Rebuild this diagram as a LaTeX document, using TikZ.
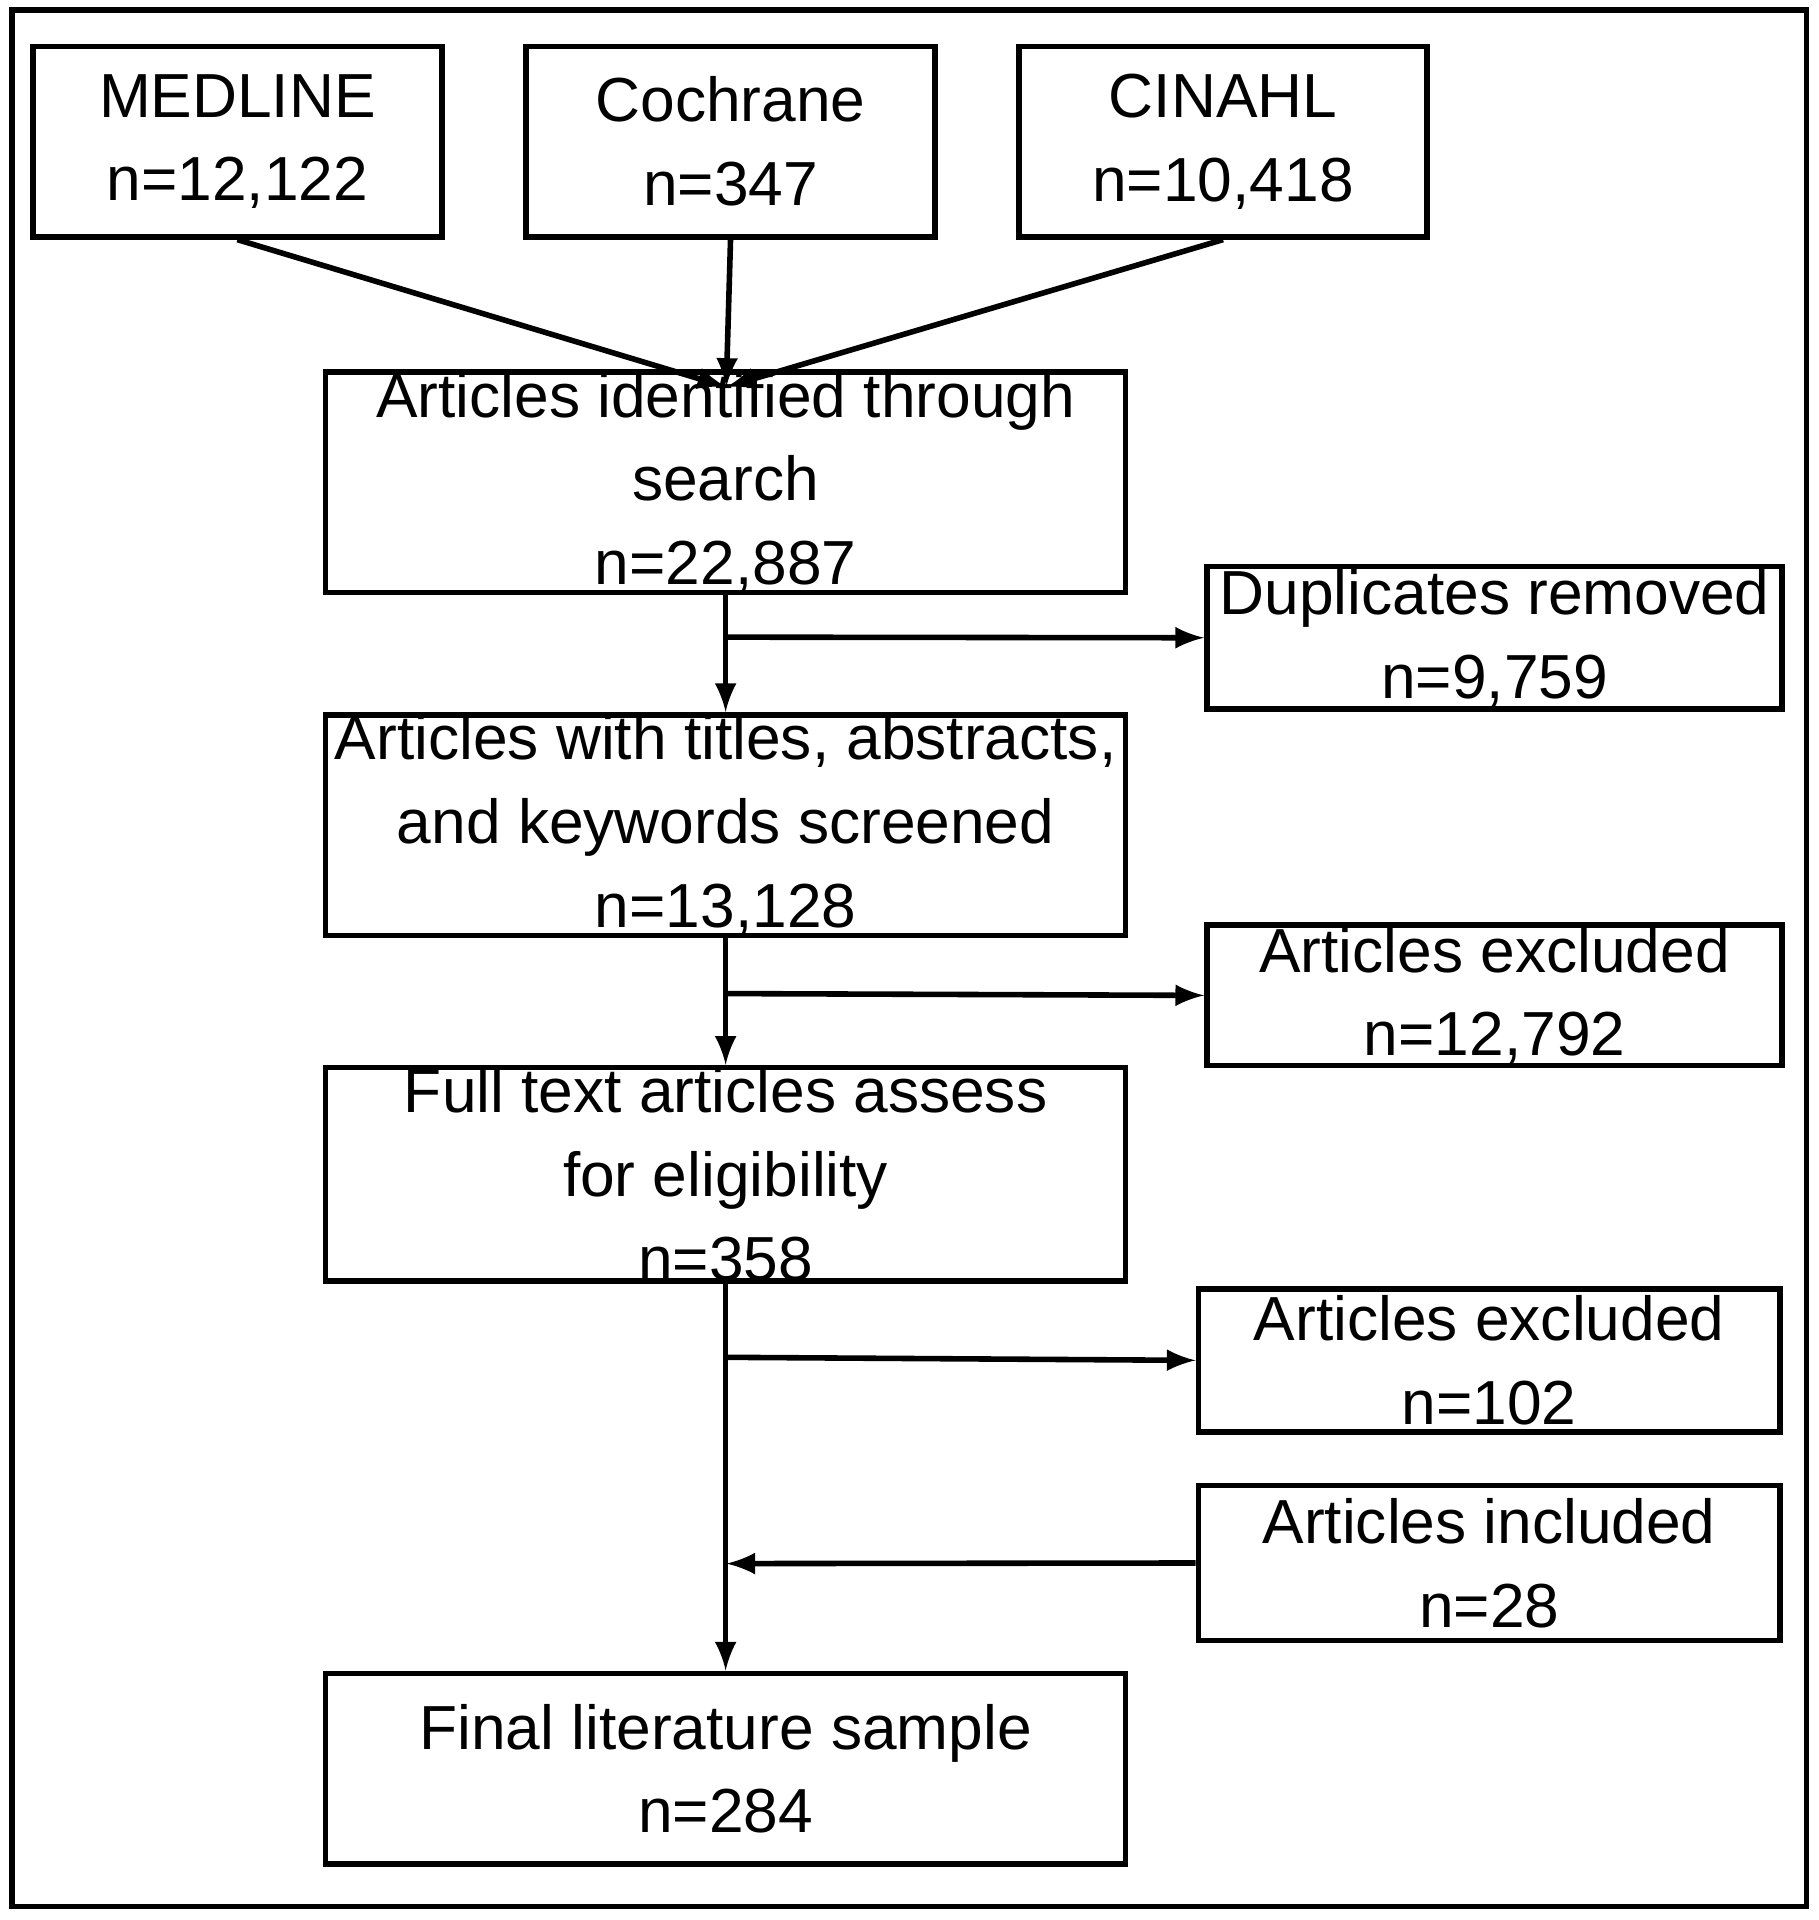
\documentclass[tikz,border=0pt]{standalone}
\usepackage{fontspec}
\setmainfont{Liberation Sans}
\usetikzlibrary{positioning}

\tikzset{
  box/.style={draw, line width=1.3pt, align=center, inner sep=0pt,
    font=\fontsize{14.5}{19.5}\selectfont},
  flow/.style={->, >=latex, line width=1.3pt}
}

\begin{document}
\begin{tikzpicture}[x=0.01cm, y=-0.01cm]
  \useasboundingbox (0,0) rectangle (1490,1573);
  \draw[line width=1.3pt] (10,8) rectangle (1480,1562);
  % sources
  \node[box, minimum width=3.35cm, minimum height=1.56cm] (medline)  at (194.5,116) {MEDLINE\\n=12,122};
  \node[box, minimum width=3.35cm, minimum height=1.56cm] (cochrane) at (598.5,116) {Cochrane\\n=347};
  \node[box, minimum width=3.34cm, minimum height=1.56cm] (cinahl)   at (1002,116) {CINAHL\\n=10,418};
  % main column
  \node[box, minimum width=6.55cm, minimum height=1.56cm] (search)   at (594.5,395) {Articles identified through\\search\\n=22,887};
  \node[box, minimum width=6.55cm, minimum height=1.56cm] (screened) at (594.5,676) {Articles with titles, abstracts,\\and keywords screened\\n=13,128};
  \node[box, minimum width=6.55cm, minimum height=1.56cm] (fulltext) at (594.5,962) {Full text articles assess\\for eligibility\\n=358};
  \node[box, minimum width=6.55cm, minimum height=1.56cm] (final)    at (594.5,1449) {Final literature sample\\n=284};
  % side boxes
  \node[box, minimum width=4.71cm, minimum height=1.17cm] (dupl)  at (1224.5,522.5) {Duplicates removed\\n=9,759};
  \node[box, minimum width=4.71cm, minimum height=1.15cm] (excl1) at (1224.5,815.5) {Articles excluded\\n=12,792};
  \node[box, minimum width=4.76cm, minimum height=1.17cm] (excl2) at (1220,1114.5) {Articles excluded\\n=102};
  \node[box, minimum width=4.76cm, minimum height=1.27cm] (incl)  at (1220,1280.5) {Articles included\\n=28};
  % connectors
  \coordinate (top) at (595,317);
  \coordinate (b1) at (595,522);
  \coordinate (b2) at (595,814);
  \coordinate (b3) at (595,1112);
  \coordinate (b4) at (595,1281);
  \draw[flow] (medline.south) -- (top);
  \draw[flow] (cochrane.south) -- (top);
  \draw[flow] (cinahl.south) -- (top);
  \draw[flow] (search.south) -- (screened.north);
  \draw[flow] (screened.south) -- (fulltext.north);
  \draw[flow] (fulltext.south) -- (final.north);
  \draw[flow] (b1) -- (dupl.west);
  \draw[flow] (b2) -- (excl1.west);
  \draw[flow] (b3) -- (excl2.west);
  \draw[flow] (incl.west) -- (b4);
\end{tikzpicture}
\end{document}
